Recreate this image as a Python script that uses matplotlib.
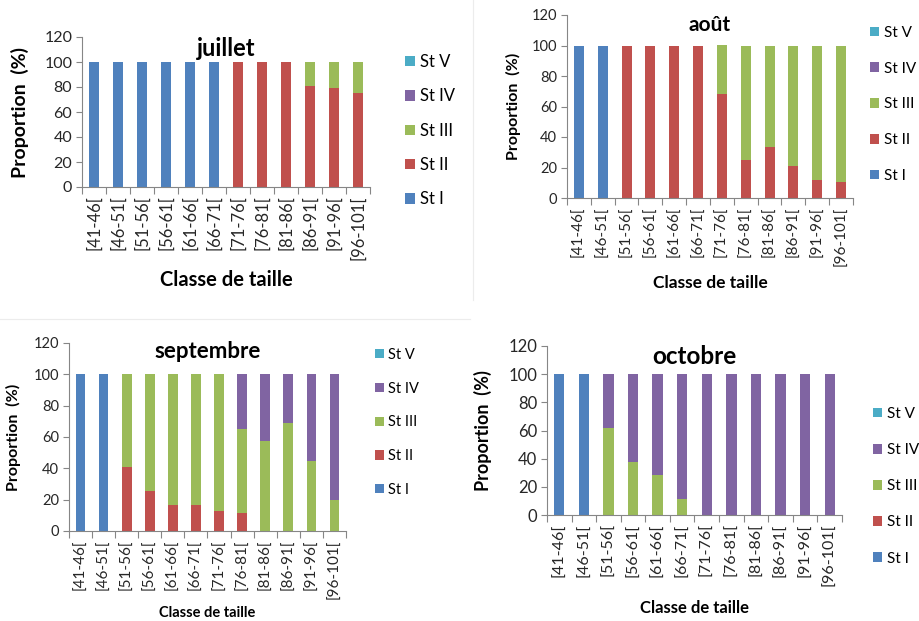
import numpy as np
import matplotlib
matplotlib.use("Agg")
import matplotlib.pyplot as plt
from matplotlib.lines import Line2D

plt.rcParams["font.family"] = ["Lato", "DejaVu Sans"]

classes = ["[41-46[", "[46-51[", "[51-56[", "[56-61[", "[61-66[", "[66-71[",
           "[71-76[", "[76-81[", "[81-86[", "[86-91[", "[91-96[", "[96-101["]
stages = ["St I", "St II", "St III", "St IV", "St V"]
colors = ["#4F81BD", "#C0504D", "#9BBB59", "#8064A2", "#4BACC6"]

# proportions (%) per stage, one list per month
juillet = {
    "St I":   [100, 100, 100, 100, 100, 100, 0, 0, 0, 0, 0, 0],
    "St II":  [0, 0, 0, 0, 0, 0, 100, 100, 100, 81, 79, 75.5],
    "St III": [0, 0, 0, 0, 0, 0, 0, 0, 0, 19, 21, 24.5],
    "St IV":  [0] * 12,
    "St V":   [0] * 12,
}
aout = {
    "St I":   [100, 100, 0, 0, 0, 0, 0, 0, 0, 0, 0, 0],
    "St II":  [0, 0, 100, 100, 100, 100, 68.3, 24.9, 33.2, 21.2, 12, 10.3],
    "St III": [0, 0, 0, 0, 0, 0, 31.7, 75.1, 66.8, 78.8, 88, 89.7],
    "St IV":  [0] * 12,
    "St V":   [0] * 12,
}
septembre = {
    "St I":   [100, 100, 0, 0, 0, 0, 0, 0, 0, 0, 0, 0],
    "St II":  [0, 0, 40.6, 25.7, 16.8, 16.8, 13, 11.3, 0, 0, 0, 0],
    "St III": [0, 0, 59.4, 74.3, 83.2, 83.2, 87, 53.8, 57.7, 68.7, 44.7, 19.6],
    "St IV":  [0, 0, 0, 0, 0, 0, 0, 34.9, 42.3, 31.3, 55.3, 80.4],
    "St V":   [0] * 12,
}
octobre = {
    "St I":   [100, 100, 0, 0, 0, 0, 0, 0, 0, 0, 0, 0],
    "St II":  [0] * 12,
    "St III": [0, 0, 61.9, 37.8, 28.6, 11.6, 0, 0, 0, 0, 0, 0],
    "St IV":  [0, 0, 38.1, 62.2, 71.4, 88.4, 100, 100, 100, 100, 100, 100],
    "St V":   [0] * 12,
}

W, H = 920, 621
fig = plt.figure(figsize=(W / 100, H / 100), dpi=100)


def px_box(left, right, top, bottom):
    return [left / W, 1 - bottom / H, (right - left) / W, (bottom - top) / H]


def draw_panel(data, title, box, fs, title_y, xlab_y, ylab_x, leg_xy, leg_sp):
    left, right, top, bottom = box
    ax = fig.add_axes(px_box(left, right, top, bottom))
    x = np.arange(len(classes))
    base = np.zeros(len(classes))
    handles = []
    for st, c in zip(stages, colors):
        vals = np.array(data[st], dtype=float)
        h = ax.bar(x, vals, 0.42, bottom=base, color=c, linewidth=0, label=st)
        handles.append(h)
        base += vals

    ax.set_xlim(-0.5, len(classes) - 0.5)
    ax.set_ylim(0, 120)
    ax.set_yticks(range(0, 121, 20))
    ax.tick_params(axis="y", labelsize=fs["tick"], length=4, width=0.8,
                   color="#868686", labelcolor="#262626", pad=3)
    ax.set_xticks(x)
    ax.set_xticklabels(classes, rotation=90)
    ax.tick_params(axis="x", which="major", length=0, labelsize=fs["xtick"],
                   labelcolor="#262626", pad=6)
    ax.set_xticks(np.arange(-0.5, len(classes)), minor=True)
    ax.tick_params(axis="x", which="minor", length=5, width=0.8, color="#868686")
    for s in ["top", "right"]:
        ax.spines[s].set_visible(False)
    for s in ["left", "bottom"]:
        ax.spines[s].set_color("#868686")
        ax.spines[s].set_linewidth(0.8)

    cx = (left + right) / 2
    fig.text(cx / W, 1 - title_y / H, title, ha="center", va="center",
             fontsize=fs["title"], fontweight="bold", color="black")
    fig.text(cx / W, 1 - xlab_y / H, "Classe de taille", ha="center", va="center",
             fontsize=fs["xlab"], fontweight="bold", color="black")
    fig.text(ylab_x / W, 1 - (top + bottom) / 2 / H, "Proportion  (%)", ha="center",
             va="center", rotation=90, fontsize=fs["ylab"], fontweight="bold",
             color="black")

    ax.legend(handles[::-1], stages[::-1], loc="upper left",
              bbox_to_anchor=(leg_xy[0] / W, 1 - leg_xy[1] / H),
              bbox_transform=fig.transFigure, frameon=False, fontsize=fs["leg"],
              handlelength=0.6, handleheight=0.6, handletextpad=0.3,
              labelspacing=leg_sp, borderpad=0, borderaxespad=0)
    return ax


draw_panel(juillet, "juillet", (82, 370, 37, 187),
           dict(tick=11.5, xtick=12, title=17, xlab=14.5, ylab=14, leg=12),
           48, 280, 20, (405, 54), 1.1)
draw_panel(aout, "août", (567, 853, 15, 198),
           dict(tick=10.5, xtick=11, title=15, xlab=12.5, ylab=11.5, leg=11),
           25, 283, 513, (870, 26), 1.42)
draw_panel(septembre, "septembre", (69, 346, 343, 531),
           dict(tick=10.5, xtick=11, title=16, xlab=10.5, ylab=11.5, leg=10.5),
           352, 613, 13, (375, 348), 1.35)
draw_panel(octobre, "octobre", (547, 842, 346, 515),
           dict(tick=12, xtick=11.5, title=17.5, xlab=12, ylab=13, leg=11),
           356, 608, 483, (873, 407), 1.45)

# faint frame edges of the pasted charts
fig.add_artist(Line2D([473 / W, 473 / W], [1, 1 - 300 / H], color="#ececec", lw=0.8))
fig.add_artist(Line2D([0, 470 / W], [1 - 319 / H, 1 - 319 / H], color="#ececec", lw=0.8))

fig.savefig("out.png", dpi=100)
